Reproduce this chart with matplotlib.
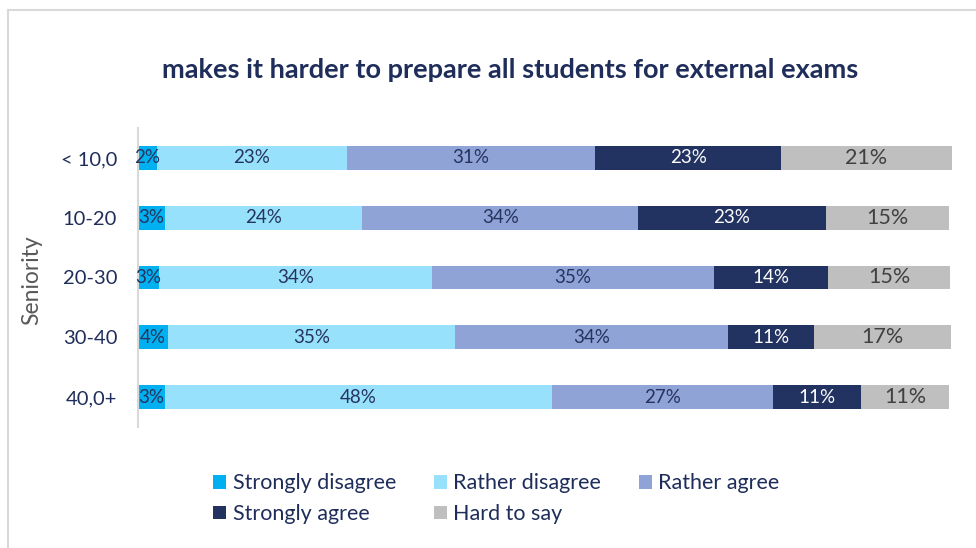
import matplotlib
matplotlib.use("Agg")
import matplotlib.pyplot as plt
from matplotlib.lines import Line2D
import numpy as np

plt.rcParams['font.family'] = ['Lato', 'DejaVu Sans']

# Survey data: share of answers (%) per seniority group
groups = ["< 10,0", "10-20", "20-30", "30-40", "40,0+"]
strongly_disagree = [2.3, 3.3, 2.6, 3.7, 3.3]
rather_disagree = [23.4, 24.3, 33.6, 35.3, 47.7]
rather_agree = [30.6, 34.0, 34.7, 33.7, 27.2]
strongly_agree = [22.9, 23.1, 14.1, 10.6, 10.8]
hard_to_say = [21.0, 15.2, 15.0, 16.8, 10.9]

series_names = ["Strongly disagree", "Rather disagree", "Rather agree",
                "Strongly agree", "Hard to say"]
series_values = [strongly_disagree, rather_disagree, rather_agree,
                 strongly_agree, hard_to_say]
colors = ["#00B0F0", "#97E1FC", "#8FA3D6", "#223261", "#BFBFBF"]
label_colors = ["#26335E", "#26335E", "#26335E", "#FFFFFF", "#404040"]
label_sizes = [13.5, 13.5, 13.5, 13.5, 15.5]

navy = "#1F2D5A"

fig = plt.figure(figsize=(9.76, 5.48), dpi=100)
ax = fig.add_axes([138 / 976, 1 - 427 / 548, (951.7 - 138) / 976, (427 - 128) / 548])

y = np.arange(len(groups))
left = np.zeros(len(groups))
handles = []
for name, vals, col, lcol, lsz in zip(series_names, series_values, colors,
                                      label_colors, label_sizes):
    vals = np.array(vals)
    bars = ax.barh(y, vals, left=left, height=0.4, color=col, label=name,
                   edgecolor="none")
    handles.append(bars)
    for yi, (l, v) in enumerate(zip(left, vals)):
        ax.text(l + v / 2, yi, f"{int(v + 0.5):d}%", ha="center", va="center",
                fontsize=lsz, color=lcol)
    left = left + vals

ax.set_xlim(0, left.max())
ax.set_ylim(4.5, -0.5)
ax.set_yticks(y)
ax.set_yticklabels(groups, fontsize=14.5, color=navy)
ax.tick_params(axis="y", length=0, pad=15)
ax.set_xticks([])
for side in ["top", "right", "bottom"]:
    ax.spines[side].set_visible(False)
ax.spines["left"].set_color("#D9D9D9")
ax.spines["left"].set_linewidth(1.5)

fig.text(32 / 976, 1 - 280 / 548, "Seniority", rotation=90, ha="center",
         va="center", fontsize=16.5, color="#595959")

fig.text(510 / 976, 1 - 70 / 548,
         "makes it harder to prepare all students for external exams",
         ha="center", va="center", fontsize=19.5, fontweight="bold", color=navy)

# Legend filled row by row: three entries on top, two below
order = [0, 3, 1, 4, 2]
leg = fig.legend([handles[i] for i in order], [series_names[i] for i in order],
                 loc="upper left", bbox_to_anchor=(209 / 976, 1 - 469 / 548),
                 ncol=3, frameon=False, fontsize=15.5, handlelength=0.6,
                 handleheight=0.6, handletextpad=0.3, columnspacing=1.75,
                 labelspacing=0.5, borderaxespad=0, borderpad=0.2)
for t in leg.get_texts():
    t.set_color(navy)

# Light chart frame along the top and left edges
fig.add_artist(Line2D([8 / 976, 1], [1 - 9.5 / 548, 1 - 9.5 / 548],
                      color="#D9D9D9", lw=1.5))
fig.add_artist(Line2D([8 / 976, 8 / 976], [0, 1 - 9.5 / 548],
                      color="#D9D9D9", lw=1.5))

fig.savefig("out.png", dpi=100, facecolor="white")
